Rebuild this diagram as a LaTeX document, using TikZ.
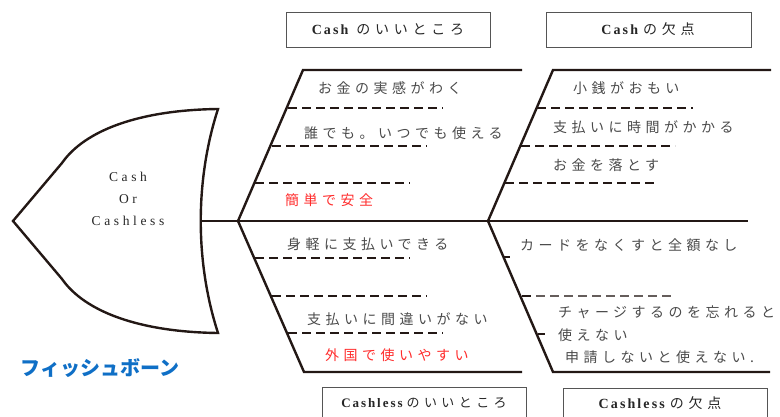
\documentclass[tikz,border=0pt]{standalone}
\usepackage{fontspec}
\setmainfont{Liberation Serif}
\newfontfamily\jpfont[LetterSpace=32]{Noto Sans CJK JP}
\newfontfamily\jpbox[LetterSpace=34]{Noto Sans CJK JP}
\newfontfamily\latfont[LetterSpace=27]{Liberation Serif}
\newfontfamily\latbox[LetterSpace=15]{Liberation Serif}
\newfontfamily\ttlfont{Noto Sans CJK JP}

\definecolor{bonecol}{HTML}{231815}
\definecolor{txtgray}{HTML}{4A4A4A}
\definecolor{txtred}{HTML}{FF2B2B}
\definecolor{ttlblue}{HTML}{0F6FC6}
\definecolor{boxcol}{HTML}{555555}

\tikzset{
  bone/.style={line width=2.4pt, draw=bonecol},
  rib/.style={line width=2.2pt, draw=bonecol, dash pattern=on 9pt off 5pt},
  item/.style={anchor=west, inner sep=0pt, text=txtgray, font=\jpfont\fontsize{14}{16}\selectfont},
  redit/.style={item, text=txtred},
  boxline/.style={line width=0.9pt, draw=boxcol},
  boxtxt/.style={inner sep=0pt, text=black!85, font=\fontsize{14}{16}\selectfont}
}

\begin{document}
\begin{tikzpicture}[x=1pt, y=-1pt]
  \useasboundingbox (0,0) rectangle (780,417);

  % head
  \draw[bone] (13,221) -- (62,163) .. controls (85,130) and (140,110) .. (218,109)
    .. controls (195,180) and (195,262) .. (218,333)
    .. controls (140,332) and (85,312) .. (62,279) -- cycle;
  \node[font=\latfont\fontsize{13.5}{22}\selectfont, align=center, text=black!85] (head) at (128,199) {Cash\\Or\\Cashless};

  % spine and bones
  \draw[bone] (200,221) -- (748,221);
  \draw[bone] (238,221) -- (303,70) -- (522,70);
  \draw[bone] (488,221) -- (553,70) -- (771,70);
  \draw[bone] (238,221) -- (304,372) -- (522,372);
  \draw[bone] (488,221) -- (553,372) -- (770,372);

  % ribs
  \foreach \y/\a/\b in {108/288/443, 146/272/427, 183/255/410, 108/537/693, 146/521/675, 183/505/655} {
    \draw[rib] (\a,\y) -- (\b,\y);
  }
  \foreach \y/\a/\b in {258/255/410, 296/272/427, 333/288/443} {
    \draw[rib] (\a,\y) -- (\b,\y);
  }
  \draw[rib] (522,296) -- (532,296);
  \draw[line width=1.2pt, draw=bonecol!70, dash pattern=on 9pt off 5pt] (536,296) -- (675,296);
  \draw[bone] (503,257) -- (510,257);
  \draw[bone] (538,334) -- (545,334);

	%\draw[rib] (505,333) -- (660,333);

  % boxes
  \draw[boxline] (286,12) rectangle (490,47);
  \draw[boxline] (546,12) rectangle (751,47);
  \draw[boxline] (322,387) rectangle (526,425);
  \draw[boxline] (563,388) rectangle (767,425);
  \node[boxtxt] (cgood) at (388,29.5) {{\latbox\bfseries Cash}\hspace{8pt}{\jpbox のいいところ}};
  \node[boxtxt] (cbad) at (648,29.5) {{\latbox\bfseries Cash}\hspace{5pt}{\jpbox の欠点}};
  \node[boxtxt, font=\fontsize{13}{15}\selectfont] (clgood) at (424,403) {{\latbox\bfseries Cashless}\hspace{4pt}{\jpbox のいいところ}};
  \node[boxtxt] (clbad) at (660,403) {{\latbox\bfseries Cashless}\hspace{5pt}{\jpbox の欠点}};

  % cash good
  \node[item] (ug1) at (318,88) {お金の実感がわく};
  \node[item] (ug2) at (304,133) {誰でも。いつでも使える};
  \node[redit] (ug3) at (285,200) {簡単で安全};

  % cash bad
  \node[item] (ub1) at (573,88) {小銭がおもい};
  \node[item] (ub2) at (553,127) {支払いに時間がかかる};
  \node[item] (ub3) at (553,165) {お金を落とす};

  % cashless good
  \node[item] (lg1) at (287,244) {身軽に支払いできる};
  \node[item] (lg2) at (307,319) {支払いに間違いがない};
  \node[redit] (lg3) at (325,355) {外国で使いやすい};

  % cashless bad
  \node[item] (lb1) at (520,245) {カードをなくすと全額なし};
  \node[item] (lb2) at (558,312) {チャージするのを忘れると};
  \node[item] (lb3) at (558,335) {使えない};
  \node[item] (lb4) at (565,357) {申請しないと使えない.};

  \node[font=\ttlfont\bfseries\fontsize{20}{24}\selectfont, text=ttlblue] (ttl) at (100,368) {フィッシュボーン};
\end{tikzpicture}
\end{document}
